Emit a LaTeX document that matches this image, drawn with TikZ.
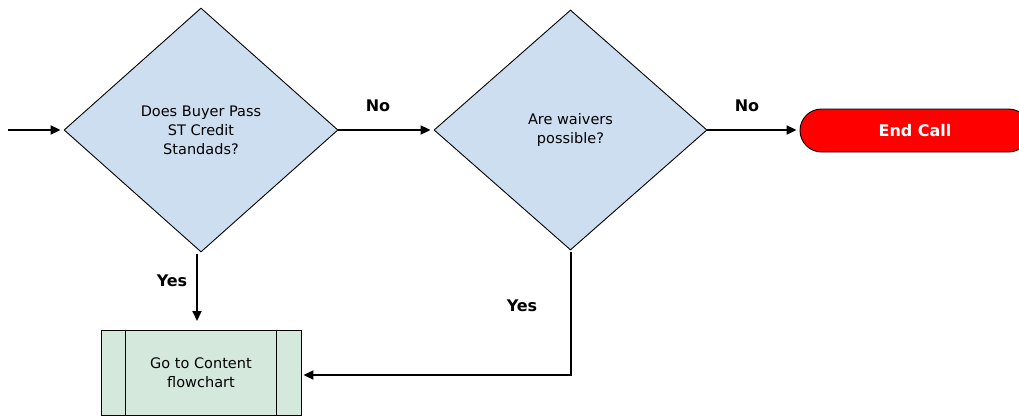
\documentclass[tikz,border=0pt]{standalone}
\usepackage{fontspec}
\setmainfont{DejaVu Sans}
\usetikzlibrary{shapes.geometric,calc,arrows.meta}
\definecolor{decfill}{RGB}{204,222,240}
\definecolor{procfill}{RGB}{213,232,220}
\begin{document}
\begin{tikzpicture}[x=1pt,y=-1pt,
  decision/.style={diamond,draw=black,fill=decfill,line width=0.9pt,inner sep=0pt,
    align=center,font=\fontsize{14.5}{19}\selectfont},
  flow/.style={-{Triangle[length=10pt,width=9pt]},line width=2pt},
  lbl/.style={font=\bfseries\fontsize{16}{18}\selectfont}]
\useasboundingbox (0,0) rectangle (1019,418);
\begin{scope}
\clip (0,0) rectangle (1019,418);
% decisions
\node[decision,minimum width=274pt,minimum height=244pt] (d1) at (201,130)
  {Does Buyer Pass\\ST Credit\\Standads?};
\node[decision,minimum width=273pt,minimum height=240pt] (d2) at (570.5,130)
  {Are waivers\\possible?};
% terminator, running past the right edge
\node[draw=black,fill=red,line width=0.9pt,rounded corners=21.5pt,
  minimum width=230pt,minimum height=43pt,text=white,
  font=\bfseries\fontsize{16}{18}\selectfont] (end) at (915,130.5) {End Call};
% predefined process
\node[draw=black,fill=procfill,line width=0.9pt,minimum width=200pt,minimum height=85pt,
  align=center,font=\fontsize{14.5}{19}\selectfont] (sub) at (201,372.5) {Go to Content\\flowchart};
\draw[line width=0.9pt] ($(sub.north west)+(25,0)$) -- ($(sub.south west)+(25,0)$);
\draw[line width=0.9pt] ($(sub.north east)+(-25,0)$) -- ($(sub.south east)+(-25,0)$);
% connectors
\coordinate (start) at (8,130);
\coordinate (yesend) at (197,321);
\coordinate (corner) at (570.5,375);
\draw[flow] (start) -- ($(d1.west)+(-3,0)$);
\draw[flow] (d1.east) -- ($(d2.west)+(-3,0)$);
\draw[flow] (d2.east) -- ($(end.west)+(-3,-0.5)$);
\draw[flow] ($(d1.south)+(-4,2)$) -- (yesend);
\draw[flow] ($(d2.south)+(0,2)$) -- (corner) -- ($(sub.east)+(2,2.5)$);
% labels
\node[lbl] (no1) at (378,106) {No};
\node[lbl] (no2) at (747,106) {No};
\node[lbl] (yes1) at (172,281) {Yes};
\node[lbl] (yes2) at (522,306) {Yes};
\end{scope}
\end{tikzpicture}
\end{document}
